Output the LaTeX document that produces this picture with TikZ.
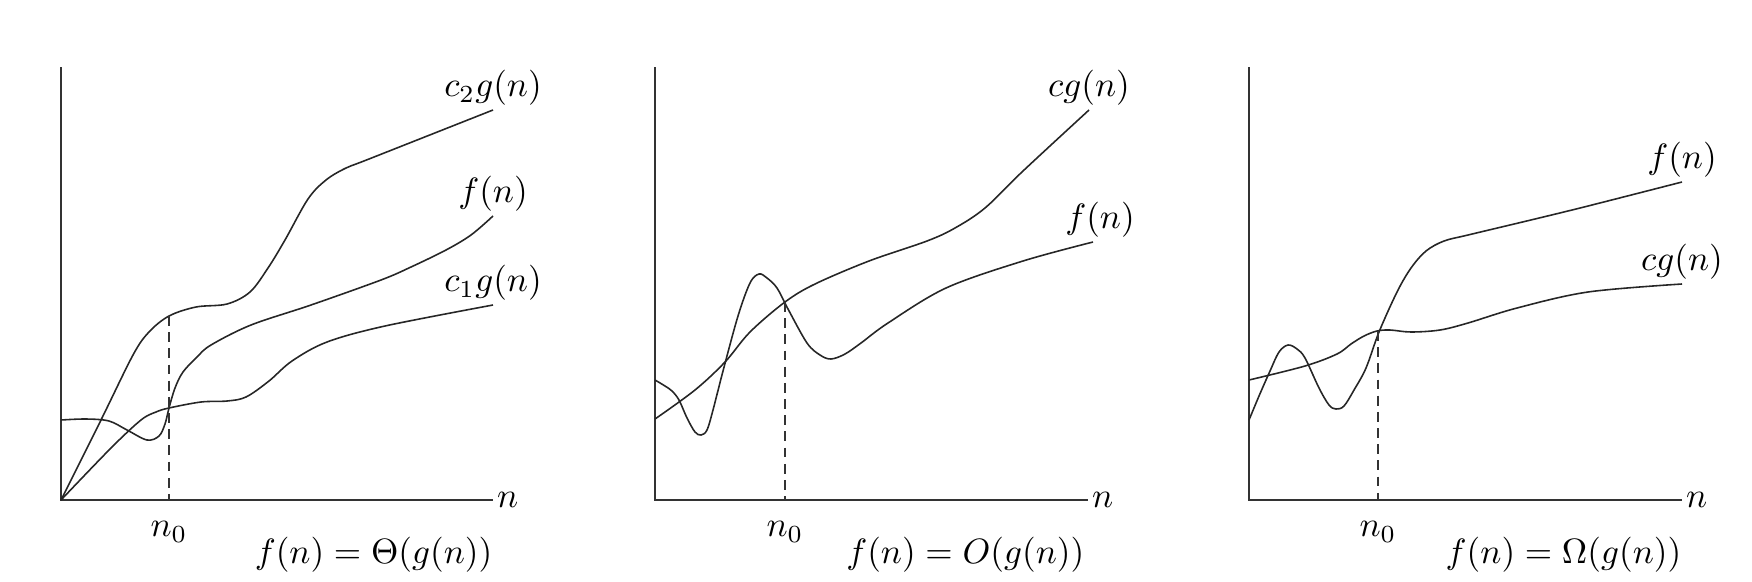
\documentclass[tikz,border=0pt]{standalone}
\usepackage{amsmath}
\usepackage{tikz}
\usetikzlibrary{positioning}

\begin{document}
\begin{tikzpicture}[
		x=0.01cm, y=0.01cm,
		axisline/.style={draw=black!80, line width=0.65pt},
		curveline/.style={draw=black!85, line width=0.45pt},
		guideline/.style={draw=black!80, line width=0.45pt, dash pattern=on 2.8pt off 1.8pt},
		curvelabel/.style={above, inner sep=1pt, font=\fontsize{10}{12}\selectfont},
		axislabel/.style={inner sep=1pt, font=\fontsize{10}{12}\selectfont},
		captext/.style={anchor=base east, inner sep=0pt, font=\fontsize{10}{12}\selectfont}
		]
		\useasboundingbox (0,0) rectangle (1752,581);
		
		% Theta
		\begin{scope}[shift={(61,81)}]
			\coordinate (O1) at (0,0);
			\coordinate (Y1) at (0,433);
			\coordinate (X1) at (432,0);
			\coordinate (T1) at (108,184);
			\coordinate (B1) at (108,0);
			\draw[axisline] (Y1) -- (O1) -- (X1);
			\node[axislabel, right] (n1) at (X1) {$n$};
			\draw[curveline] plot[smooth, tension=0.55] coordinates {(0,0) (40,80) (72,145) (88,168) (108,184) (135,193) (166,196) (189,208) (207,232) (224,260) (247,301) (265,320) (285,332) (308,341) (432,390)} node[curvelabel] (c2lab) {$c_2g(n)$};
			\draw[curveline] plot[smooth, tension=0.55] coordinates {(0,80) (25,81) (48,79) (66,70) (86,60) (98,64) (104,76) (108,92) (114,112) (122,128) (136,143) (150,155) (190,175) (250,195) (320,220) (350,233) (385,250) (410,265) (432,284)} node[curvelabel] (f1lab) {$f(n)$};
			\draw[curveline] plot[smooth, tension=0.55] coordinates {(0,0) (50,52) (80,80) (95,88) (108,92) (140,98) (166,99) (185,103) (208,119) (231,139) (266,158) (324,174) (432,195)} node[curvelabel] (c1lab) {$c_1g(n)$};
			\draw[guideline] (T1) -- (B1);
			\node[axislabel, below=5pt] (n01) at (B1) {$n_0$};
			\node[captext] (cap1) at (432,-63) {$f(n)=\Theta(g(n))$};
		\end{scope}
		
		% Big O
		\begin{scope}[shift={(655,81)}]
			\coordinate (O2) at (0,0);
			\coordinate (Y2) at (0,433);
			\coordinate (X2) at (433,0);
			\coordinate (T2) at (130,198);
			\coordinate (B2) at (130,0);
			\draw[axisline] (Y2) -- (O2) -- (X2);
			\node[axislabel, right] (n2) at (X2) {$n$};
			\draw[curveline] plot[smooth, tension=0.55] coordinates {(0,81) (40,110) (70,138) (95,168) (130,198) (160,216) (214,239) (272,259) (300,272) (330,292) (368,329) (434,390)} node[curvelabel] (cg2lab) {$cg(n)$};
			\draw[curveline] plot[smooth, tension=0.55] coordinates {(0,120) (10,114) (17,109) (24,100) (32,82) (40,68) (46,65) (52,70) (58,90) (68,129) (83,184) (95,217) (104,226) (112,222) (122,212) (133,191) (152,157) (165,145) (176,141) (190,146) (206,157) (233,177) (291,212) (368,239) (438,258)} node[curvelabel, xshift=2pt] (f2lab) {$f(n)$};
			\draw[guideline] (T2) -- (B2);
			\node[axislabel, below=5pt] (n02) at (B2) {$n_0$};
			\node[captext] (cap2) at (430,-63) {$f(n)=O(g(n))$};
		\end{scope}
		
		% Omega
		\begin{scope}[shift={(1249,81)}]
			\coordinate (O3) at (0,0);
			\coordinate (Y3) at (0,433);
			\coordinate (X3) at (433,0);
			\coordinate (T3) at (129,169);
			\coordinate (B3) at (129,0);
			\draw[axisline] (Y3) -- (O3) -- (X3);
			\node[axislabel, right] (n3) at (X3) {$n$};
			\draw[curveline] plot[smooth, tension=0.55] coordinates {(0,80) (10,104) (21,129) (30,148) (39,155) (48,151) (56,142) (70,112) (80,95) (87,91) (95,94) (105,110) (117,132) (130,168) (148,208) (162,232) (177,249) (195,259) (219,265) (286,281) (339,294) (433,318)} node[curvelabel] (f3lab) {$f(n)$};
			\draw[curveline] plot[smooth, tension=0.55] coordinates {(0,120) (56,134) (88,146) (102,156) (115,164) (128,169) (141,170) (162,168) (191,170) (219,177) (268,192) (339,208) (433,216)} node[curvelabel] (cg3lab) {$cg(n)$};
			\draw[guideline] (T3) -- (B3);
			\node[axislabel, below=5pt] (n03) at (B3) {$n_0$};
			\node[captext] (cap3) at (433,-63) {$f(n)=\Omega(g(n))$};
		\end{scope}
	\end{tikzpicture}
\end{document}
